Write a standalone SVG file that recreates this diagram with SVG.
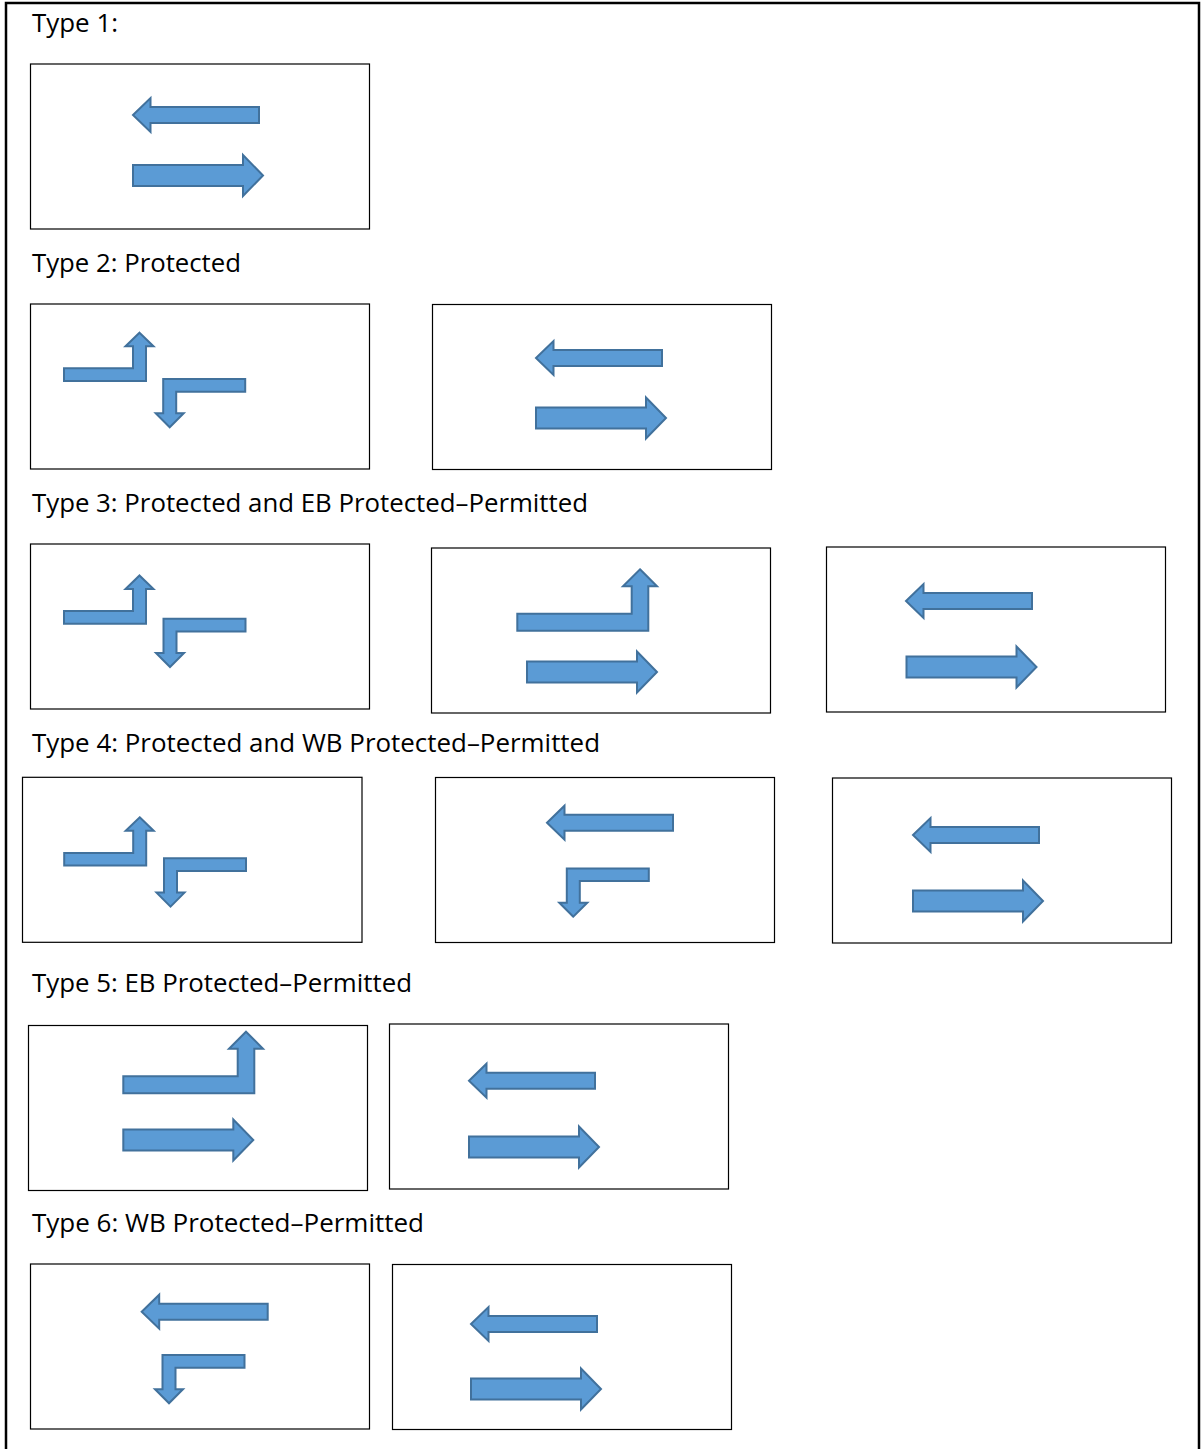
<svg xmlns="http://www.w3.org/2000/svg" width="1201" height="1449" viewBox="0 0 1201 1449">
<style>
.lbl{font-family:"Open Sans","Liberation Sans",sans-serif;font-size:25px;fill:#000}
.box{fill:#fff;stroke:#000;stroke-width:1.2}
.arr{fill:#5B9BD5;stroke:#41719C;stroke-width:2;stroke-linejoin:miter}
</style>
<defs>
<polygon id="aL" class="arr" points="0,0 17.5,-17 17.5,-8 126,-8 126,8 17.5,8 17.5,17"/>
<polygon id="aR" class="arr" points="0,-10.5 110,-10.5 110,-20.5 130,0 110,20.5 110,10.5 0,10.5"/>
<polygon id="uS" class="arr" points="0,0 14,13.5 6.5,13.5 6.5,48.3 -75.5,48.3 -75.5,35.6 -6.5,35.6 -6.5,13.5 -14,13.5"/>
<polygon id="dS" class="arr" points="0,0 -14,-14 -6.5,-14 -6.5,-48.3 75.5,-48.3 75.5,-35.6 6.5,-35.6 6.5,-14 14,-14"/>
<polygon id="uB" class="arr" points="0,0 17,17 8.3,17 8.3,61.5 -122.7,61.5 -122.7,44.5 -8.3,44.5 -8.3,17 -17,17"/>
</defs>
<rect width="1201" height="1449" fill="#fff"/>
<path d="M6,1449 V3 H1199 V1449" fill="none" stroke="#000" stroke-width="2.5"/>

<g id="labels">
<text class="lbl" x="32" y="31.7" textLength="86" lengthAdjust="spacingAndGlyphs">Type 1:</text>
<text class="lbl" x="32" y="271.7" textLength="209" lengthAdjust="spacingAndGlyphs">Type 2: Protected</text>
<text class="lbl" x="32" y="511.7" textLength="556" lengthAdjust="spacingAndGlyphs">Type 3: Protected and EB Protected–Permitted</text>
<text class="lbl" x="32" y="751.7" textLength="568" lengthAdjust="spacingAndGlyphs">Type 4: Protected and WB Protected–Permitted</text>
<text class="lbl" x="32" y="991.7" textLength="380" lengthAdjust="spacingAndGlyphs">Type 5: EB Protected–Permitted</text>
<text class="lbl" x="32" y="1231.7" textLength="392" lengthAdjust="spacingAndGlyphs">Type 6: WB Protected–Permitted</text>
</g>

<g id="t1a">
<rect class="box" x="30.5" y="64" width="339" height="165"/>
<use href="#aL" x="133" y="115"/>
<use href="#aR" x="133" y="175.5"/>
</g>

<g id="t2a">
<rect class="box" x="30.5" y="304" width="339" height="165"/>
<use href="#uS" x="139.5" y="332.7"/>
<use href="#dS" x="169.7" y="427.3"/>
</g>
<g id="t2b">
<rect class="box" x="432.5" y="304.5" width="339" height="165"/>
<use href="#aL" x="536" y="358"/>
<use href="#aR" x="536" y="418"/>
</g>

<g id="t3a">
<rect class="box" x="30.5" y="544" width="339" height="165"/>
<use href="#uS" x="139.5" y="575.5"/>
<use href="#dS" x="170" y="667"/>
</g>
<g id="t3b">
<rect class="box" x="431.5" y="548" width="339" height="165"/>
<use href="#uB" x="640" y="569.3"/>
<use href="#aR" x="527" y="672"/>
</g>
<g id="t3c">
<rect class="box" x="826.5" y="547" width="339" height="165"/>
<use href="#aL" x="906" y="601"/>
<use href="#aR" x="906.5" y="667"/>
</g>

<g id="t4a">
<rect class="box" x="22.5" y="777.3" width="339.5" height="165"/>
<use href="#uS" x="139.7" y="817.3"/>
<use href="#dS" x="170.5" y="906.6"/>
</g>
<g id="t4b">
<rect class="box" x="435.5" y="777.5" width="339" height="165"/>
<use href="#aL" x="547" y="822.7"/>
<use href="#dS" x="573.3" y="916.7"/>
</g>
<g id="t4c">
<rect class="box" x="832.5" y="778" width="339" height="165"/>
<use href="#aL" x="913" y="835"/>
<use href="#aR" x="913" y="901"/>
</g>

<g id="t5a">
<rect class="box" x="28.5" y="1025.5" width="339" height="165"/>
<use href="#uB" x="246" y="1031.7"/>
<use href="#aR" x="123.3" y="1140"/>
</g>
<g id="t5b">
<rect class="box" x="389.5" y="1024" width="339" height="165"/>
<use href="#aL" x="469" y="1080.7"/>
<use href="#aR" x="469" y="1147"/>
</g>

<g id="t6a">
<rect class="box" x="30.5" y="1264" width="339" height="165"/>
<use href="#aL" x="141.7" y="1311.7"/>
<use href="#dS" x="169" y="1403.3"/>
</g>
<g id="t6b">
<rect class="box" x="392.5" y="1264.5" width="339" height="165"/>
<use href="#aL" x="471" y="1324"/>
<use href="#aR" x="471" y="1389"/>
</g>
</svg>
